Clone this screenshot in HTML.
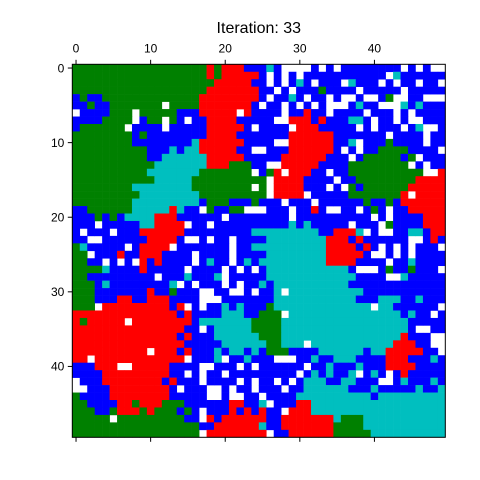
<!DOCTYPE html>
<html><head><meta charset="utf-8">
<style>
html,body{margin:0;padding:0;background:#fff;}
svg{display:block;font-family:"Liberation Sans","DejaVu Sans",sans-serif;}
</style></head>
<body>
<svg id="chart" width="480" height="480" viewBox="0 0 480 480">
<rect x="0" y="0" width="480" height="480" fill="#fff"/>
<text x="258.8" y="33" text-anchor="middle" font-size="16">Iteration: 33</text>
<g id="cells"></g>
<g id="axes"></g>
</svg>
<script>
const rowsLeft = [
"GGGGGGGGGGGGGGGGGGRGRRRBB","GGGGGGGGGGGGGGGGGGRGRRRRR","GGGGGGGGGGGGGGGGGGGRRRRRB","GGGGGGGGGGGGGGGGGGRRRRRRR",
"BGBBGGGGGGGGGGGGGRRRRRRRR","BBGBBGGGGGGGWGGGGRRRRRRRB","WBBBBGGGWGGGGGBBBRRRRRWRB","BBBBGGGGWBGGWGBWBBRRRRBBB",
"BGGGGGGWBBBBWBBBBBRRRRRBW","GGGGGGGGBGBBBBBBBBRRRRBBB","GGGGGGGGBBBBBBBBCRRRRRRBB","GGGGGGGGGGBBBCBCCRRRRRBBW",
"GGGGGGGGGGBBCCCCCCRRRRRBB","GGGGGGGGGGGCCCCCCCRRRGGGB","GGGGGGGGGGCCCCCCCGGGGGGGW","GGGGGGGGGGGCCCCCGGGGGGGGG",
"GGGGGGGGCCCCCCCCGGGGGGGGW","GGGGGGGGGCCCCCCCCGGGGGGGG","GGGGGGGGCCCCCCCCCBGGGBBBG","BBGGGGGGCCCCCRCBBWGBBGGWW",
"BBBGBGBCCCCRRRBBBBBBWBBBB","BBBWBBBBBCCRRRRWBBWBBBBBB","BWBBBWBBBRRRRRRBBBBBBBBBC","BBWWBBBBBBRRRRBWWBWBBWBBB",
"GCBBBBBWBRRRRWBBBBBBBWBBC",
"GGWBBBRBBRRRBBBBWBBBBWBBB","GGBBWBWBWRBRBBBBWBCBBWBCB","GGGGCBBBBRBBBBBWBBBBWBWBW","GGBBBBBBBBBWBBBCBBBCWBBBB",
"GGGBCBBBBBBBBCWBWBBBWBWBB","GGGBBBBBBBRBBGBBBWWBBWWBW","GGGBBBRRBBRRRBBBBWWWBBBBB","GGGWRRRRRRRRRBRWBWBBCBCBB",
"RRRRRRRRRRRRRRBRBBBBCCCBB","RGRRRRRWRRRRRRRRBCCCCCCCG","RRRRRRRRRRRRRRRBBWBCCCCCG","RRRRRRRRRRRRRRBRBBBCCCCCC",
"RRRRRRRRRRRRRRRBBBBBCCCCC","RRRRRRRRRRWRRRBRBBBCBCCBC","RRWRRRRRRRRRRRRWBBBCWBBCB","BBBRRRWWRRRRRBBBBWWBBBWBW",
"BBBBRRRRRRRRRBBWBWBBWBBBB","WBBBRRRRRRRRBRBBBWBBBBWBW","WWBBBRRRRRRRRBWBBBWWBWBBW","GBBBBRRRRRRRRBBBBBWWBWWBB",
"GGBBBBRRGRRRGGGBBBBBBRRBB","GGGBBGRRRGRGGGBGBWBBBRBRB","GGGGGWGGGGGGGGGBBWRBRRRRR","GGGGGGGGGGGGGGGGGBBRRRRRR",
"GGGGGGGGGGGGGGGGGWRRRRRRR"
];
const rowsRight = [
"BCBWWWWBWBWBBBBBBBBWBWBWW","BWBWBWBBBBBBBBBBBWCBBBBBB","BWBWBCBWBBBWCBBBWBWBBWBBW","BBWBWBBBGBBBBWBBBBBWBBBBB",
"BWBBCBWBBWBWWBWWBGWWBBWWW","WBBWBWBWBWWWBCBBWWWCBCBBB","BBBWBBRBBWBBBBWBBBWBWBBBB","BBWWRRRBRBBBCCBWBBWBWWBBB",
"BBBBWRRRBBBBBWBWBBBWBCWWB","BBBBRRRRRRBBBBBBBWBBBBWBB","BBWWRRRRRRBBCWBBBGBBBBWBB","WBBBRRRRRRBWBWBBGGGGBBBBW",
"BBBRRRRRRBBBWBGGGGGBGWBBB","BWWRRRRRBBBBGGGGGGGGWBWBB","BGRWRRRBBWBBGGGGGGGGGGWWR","GWRRRRBBBBWBBGGGGGGGGRRRR",
"GWRRRRBBBWBWGBGGGGGGRRRRR","GWRRRRWBBBBBGGGGGGGRWRRRR","BBBWBBBWBBBBBBGBBGBRRRRRR","WBBBWBBRBWWBBWBGBWBBRRRRR",
"BBBBWBBBBBBBBBBWBWBBBBRRR","BBBBCBCBBBBBWBBBWGBBBBRRR","CCCCCCCCBBRRRCWBWWBBCCBRR","BCCCCCCCCRRRBRBBBBBBWWBRB",
"CCCCCCCCCRRRRBRBWBWBWBBBW",
"BCCCCCCCCRRRRRBWWBWBWBBBB","CCCCCCCCCRRRRBBBBWBBCBBBB","BCCCCCCCCCCCBWWWBGBBGBBBW","BCCCCCCCCCCCCBBBBWWCBBBBB",
"CBCCCCCCCCCCBBBBBBBBBBBBB","BBCWCCCCCCCCCCBBBBBBBBBBB","BBCCCCCCCCCCCBBBCCCBBCBBB","BGCCCCCCCCCCCCCWCCBBBBBBW",
"GGGWCCCCCCCCCCCCCCCBCBBWB","GGGCCCCCCCCCCCCCCCCCBBBBB","GGGCCCCCCCCCCCCCCCCCBWWBB","GGGCCCCCCCCCCCCCCCCRBBBWW",
"CGGCCCWCCCCCCCCCCCRRRBBWW","BGGGBBBBCCCCCCBCCRRRRRBBW","BBWWWBBCBBCCCBBBBRRRBBBCB","BBBBBBWBBCBBBCBBBRRRRBBBB",
"BBBBBWBCBCBBCWBCBWBRBBBBB","BBWBWBCCCBBCCBBBWWBCBBBCB","BBBWBBCCCCCCBBBCBBBBBCBBC","WBBBBCCCCCCCCCCBCCCCCCCCC",
"CWBBBRRCCCCCCCCCCCCCCCCCC","RBBWRRRCCCCCCCCCCCCCCCCCC","RBBRRRRRRRCGGGCCCCCCCCCCC","CBBRRRRRRRGGGGCCCCCCCCCCC",
"RWBBRRRRRRGGGGGCCCCCCCCCC"
];
const tickValues = [0,10,20,30,40];
const colorMap = {G:"#008000",R:"#ff0000",B:"#0000ff",C:"#00bfbf",W:"#ffffff"};
const NS = "http://www.w3.org/2000/svg";
const X0 = 72.3, Y0 = 64.3, CELL = 7.46, N = 50;
function xs(c){return X0 + c*CELL;}
function ys(r){return Y0 + r*CELL;}
const cells = document.getElementById('cells');
for (let r=0;r<N;r++){
  let row = ((rowsLeft[r]||"").padEnd(25,"B").slice(0,25)) + ((rowsRight[r]||"").padEnd(25,"B").slice(0,25));
  for (let c=0;c<N;c++){
    const ch = row[c];
    if (ch==="W") continue;
    const rect = document.createElementNS(NS,'rect');
    rect.setAttribute('x', xs(c)); rect.setAttribute('y', ys(r));
    rect.setAttribute('width', CELL+0.3); rect.setAttribute('height', CELL+0.3);
    rect.setAttribute('fill', colorMap[ch]||"#0000ff");
    
    
    cells.appendChild(rect);
  }
}
const axes = document.getElementById('axes');
const frame = document.createElementNS(NS,'rect');
frame.setAttribute('x', X0); frame.setAttribute('y', Y0);
frame.setAttribute('width', CELL*N); frame.setAttribute('height', CELL*N);
frame.setAttribute('fill','none'); frame.setAttribute('stroke','#000'); frame.setAttribute('stroke-width','1');


axes.appendChild(frame);
const bottom = Y0 + CELL*N;
tickValues.forEach(v=>{
  const cx = xs(v+0.5), cy = ys(v+0.5);
  [[cx,Y0,cx,Y0-4.5,'x-tick-top'],[cx,bottom,cx,bottom+4.5,'x-tick-bottom'],[X0,cy,X0-4.5,cy,'y-tick']].forEach(t=>{
    const l = document.createElementNS(NS,'line');
    l.setAttribute('x1',t[0]);l.setAttribute('y1',t[1]);l.setAttribute('x2',t[2]);l.setAttribute('y2',t[3]);
    l.setAttribute('stroke','#000');l.setAttribute('stroke-width','1');
    
    
    axes.appendChild(l);
  });
  const tx = document.createElementNS(NS,'text');
  tx.setAttribute('x',cx);tx.setAttribute('y',Y0-12);tx.setAttribute('text-anchor','middle');tx.setAttribute('font-size','12');
  tx.textContent = v;
  
  
  axes.appendChild(tx);
  const ty = document.createElementNS(NS,'text');
  ty.setAttribute('x',X0-8);ty.setAttribute('y',cy+4.3);ty.setAttribute('text-anchor','end');ty.setAttribute('font-size','12');
  ty.textContent = v;
  
  
  axes.appendChild(ty);
});
</script>
</body></html>
